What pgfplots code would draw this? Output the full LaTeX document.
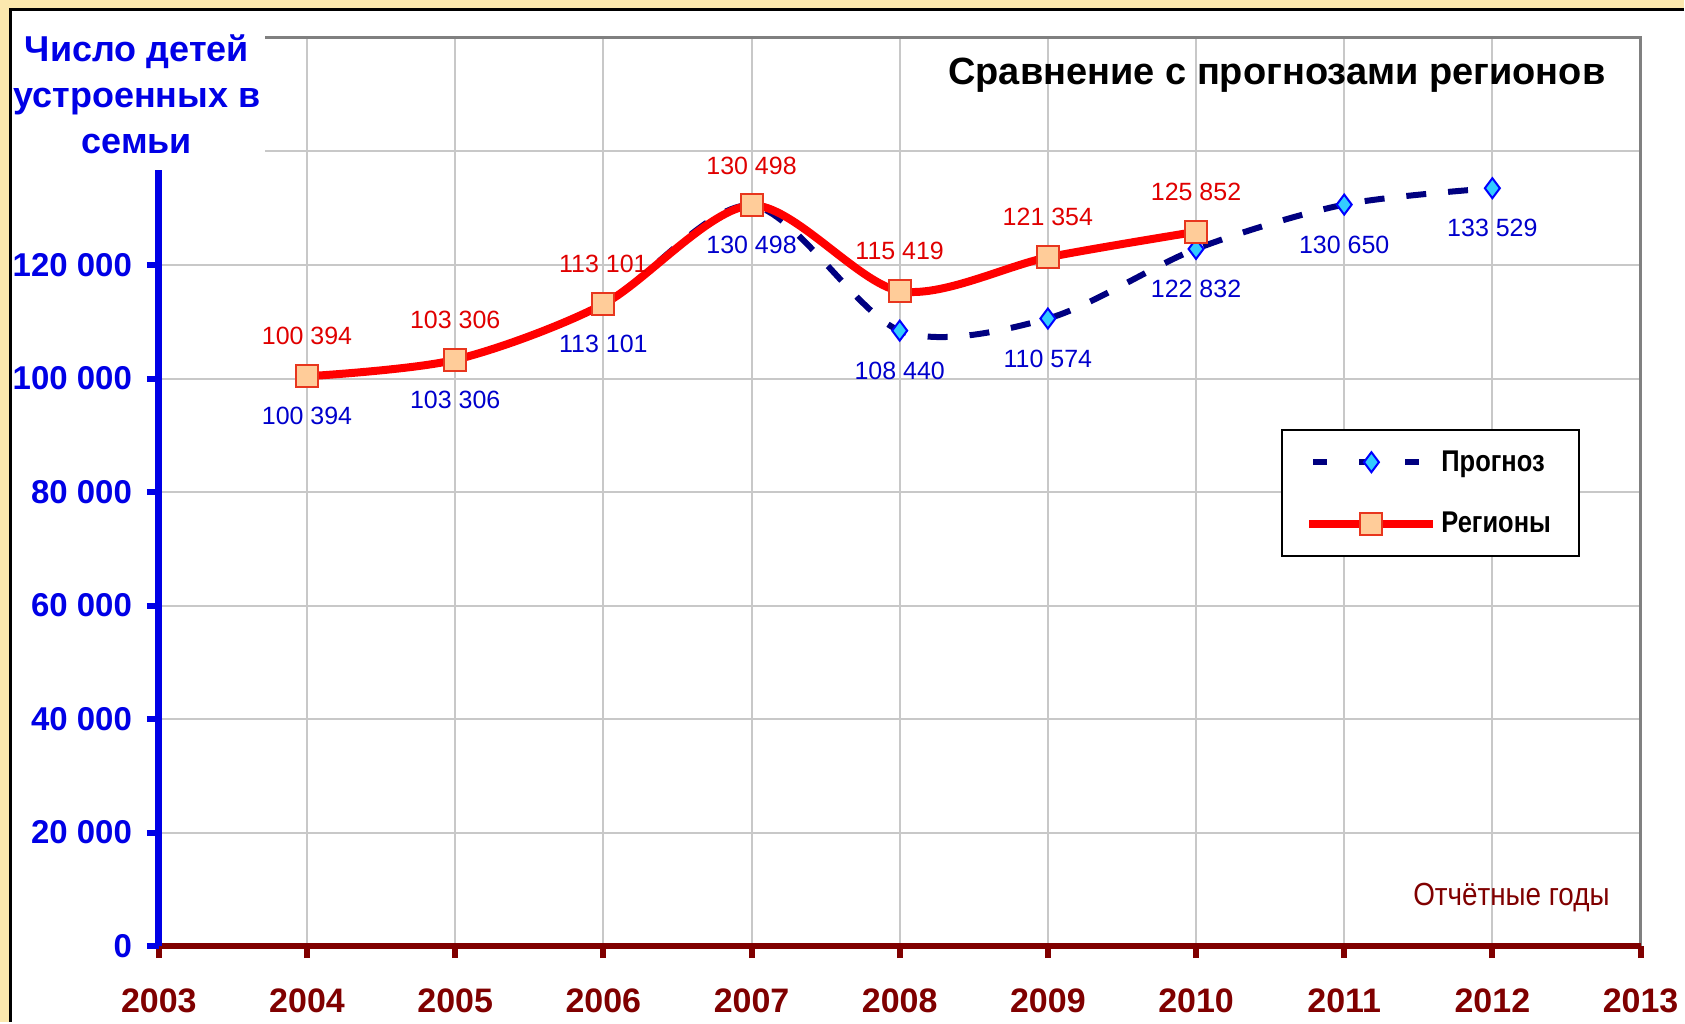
\documentclass[border=0pt]{standalone}
\usepackage{pgfplots}
\pgfplotsset{compat=1.18}
\usepackage{fontspec}
\setmainfont{Liberation Sans}
\definecolor{cream}{HTML}{FBE8AE}
\definecolor{darkred}{HTML}{800000}
\definecolor{navy}{HTML}{000080}
\definecolor{tickblue}{HTML}{0000E6}
\definecolor{lblblue}{HTML}{0000CC}
\definecolor{lblred}{HTML}{E00000}
\definecolor{peach}{HTML}{FFCC99}
\definecolor{sqedge}{HTML}{E8361E}
\definecolor{cyanm}{HTML}{33CCFF}
\definecolor{gridgray}{HTML}{C8C8C8}
\begin{document}
\begin{tikzpicture}[x=0.5pt,y=0.5pt]
\fill[cream] (0,0) rectangle (1685,1023);
\fill[white] (11,0) rectangle (1685,1013);
\draw[black, line width=1.5pt] (11,0) -- (11,1013) -- (1685,1013);
\begin{axis}[
  at={(79.5pt,38pt)}, anchor=south west,
  scale only axis, width=741.5pt, height=454.5pt,
  xmin=2003, xmax=2013, ymin=0, ymax=160000,
  xtick={2003,2004,2005,2006,2007,2008,2009,2010,2011,2012,2013},
  xticklabels={2003,2004,2005,2006,2007,2008,2009,2010,2011,2012,2013},
  ytick={0,20000,40000,60000,80000,100000,120000,140000,160000},
  yticklabels={0,20 000,40 000,60 000,80 000,100 000,120 000,,},
  scaled y ticks=false, scaled x ticks=false,
  grid=major, major grid style={gridgray, line width=1pt},
  axis line style={draw=none},
  tick align=outside, major tick length=6pt,
  xtick pos=left, ytick pos=left,
  xtick style={darkred, line width=3pt},
  ytick style={tickblue, line width=3pt},
  xticklabel style={text=darkred, font=\bfseries\fontsize{17}{20}\selectfont, yshift=-12pt},
  yticklabel style={text=tickblue, font=\bfseries\fontsize{16.5}{19}\selectfont, xshift=-4pt},
  /pgf/number format/fixed, /pgf/number format/precision=0,
  /pgf/number format/1000 sep={\ },
  /pgf/number format/assume math mode=true,
  legend style={at={(0.757,0.569)}, anchor=north west, draw=black, line width=1pt, fill=white,
    font=\bfseries\fontsize{15}{17}\selectfont, inner xsep=12pt, inner ysep=8pt, row sep=15pt,
    cells={anchor=west}},
  legend cell align=left,
  clip=false,
]
\draw[gray, line width=1.5pt] (rel axis cs:0,1) -- (rel axis cs:1,1) -- (rel axis cs:1,0);
\draw[darkred, line width=3pt] (rel axis cs:0,0) -- (rel axis cs:1,0);
\draw[tickblue, line width=3.5pt] (rel axis cs:0,0) -- (rel axis cs:0,1);
\addplot[navy, line width=3pt, dash pattern=on 10pt off 11pt, smooth,
  mark=diamond*, mark size=5pt, mark options={solid, fill=cyanm, draw=blue, line width=1pt},
  nodes near coords,
  every node near coord/.append style={text=lblblue, font=\fontsize{12.5}{14}\selectfont, anchor=center, yshift=-20pt},
  legend image code/.code={\draw[mark repeat=2,mark phase=2,dash pattern=on 7pt off 16pt, dash phase=-2pt] plot coordinates {(0pt,0pt)(31pt,0pt)(62pt,0pt)};}
] coordinates {
(2004,100394) (2005,103306) (2006,113101) (2007,130498) (2008,108440)
(2009,110574) (2010,122832) (2011,130650) (2012,133529)};
\addplot[red, line width=4pt, smooth,
  mark=square*, mark size=5.5pt, mark options={fill=peach, draw=sqedge, line width=1pt},
  nodes near coords,
  every node near coord/.append style={text=lblred, font=\fontsize{12.5}{14}\selectfont, anchor=center, yshift=20pt},
  legend image code/.code={\draw[mark repeat=2,mark phase=2] plot coordinates {(0pt,0pt)(31pt,0pt)(62pt,0pt)};}
] coordinates {
(2004,100394) (2005,103306) (2006,113101) (2007,130498) (2008,115419)
(2009,121354) (2010,125852)};
\legend{\scalebox{0.85}[1]{Прогноз}\hspace{8pt}, \scalebox{0.85}[1]{Регионы}\hspace{8pt}}
\end{axis}
\fill[white] (14,853) rectangle (265,1011);
\node[align=center, font=\bfseries\fontsize{18}{23}\selectfont, text=tickblue] at (137,929) {Число детей\\устроенных в\\семьи};
\node[font=\bfseries\fontsize{19}{22}\selectfont] at (1278,948) {Сравнение с прогнозами регионов};
\node[anchor=east, font=\fontsize{16}{19}\selectfont, text=darkred] at (1618,125) {\scalebox{0.87}[1]{Отчётные годы}};
\end{tikzpicture}
\end{document}
